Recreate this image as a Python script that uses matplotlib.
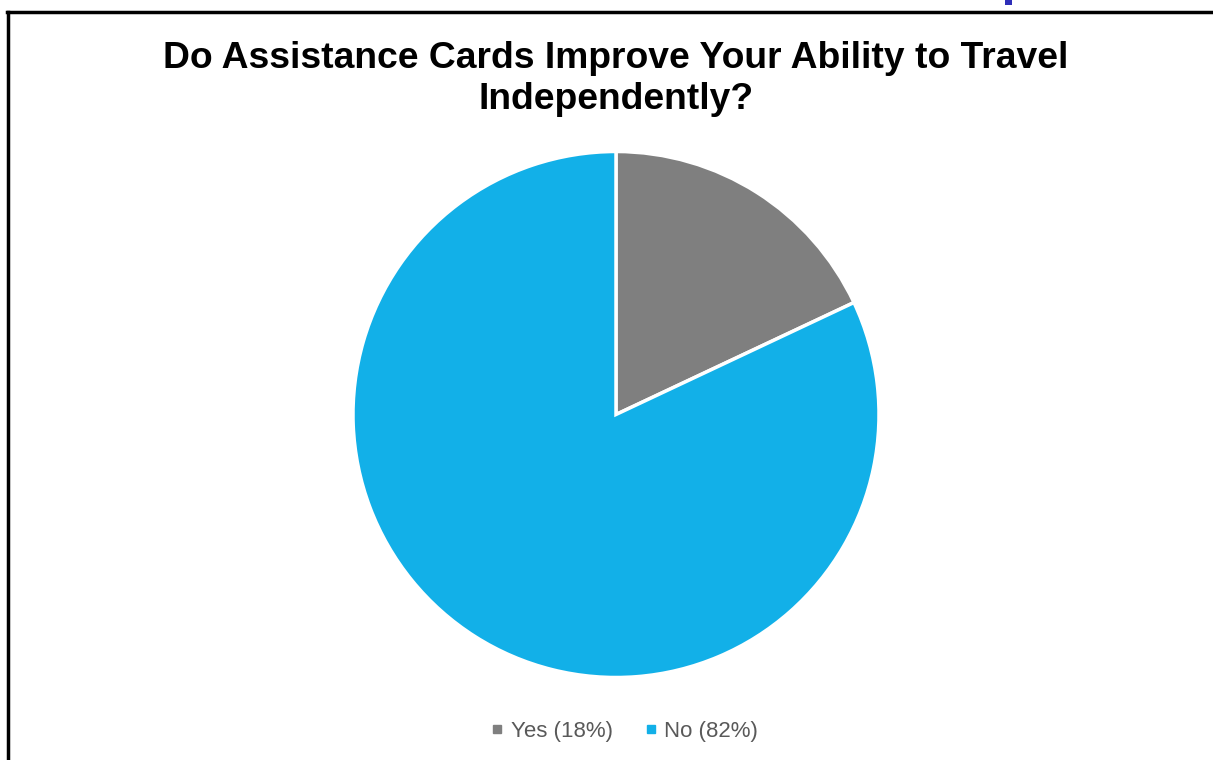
import matplotlib
matplotlib.use('Agg')
import matplotlib.pyplot as plt
from matplotlib.lines import Line2D
from matplotlib.patches import Rectangle

# survey answers
labels = ["Yes (18%)", "No (82%)"]
shares = [18, 82]
colors = ["#7F7F7F", "#12B0E8"]

W, H = 1213, 760
plt.rcParams["font.family"] = ["Liberation Sans", "DejaVu Sans"]
fig = plt.figure(figsize=(W / 100, H / 100), dpi=100)

# frame lines (left and top only)
fig.add_artist(Line2D([7.5 / W, 7.5 / W], [0, 1 - 11.5 / H], color="black", lw=2.5))
fig.add_artist(Line2D([6.5 / W, 1], [1 - 11.5 / H, 1 - 11.5 / H], color="black", lw=2.5))
fig.add_artist(Rectangle((1005 / W, 1 - 5 / H), 7 / W, 5 / H, color="#2E2EB8", lw=0))

# pie, placed by center/radius in pixels
cx, cy, r = 616, 414.5, 263
ax = fig.add_axes([(cx - r) / W, (H - cy - r) / H, 2 * r / W, 2 * r / H])
ax.pie(shares, colors=colors, startangle=90, counterclock=False, radius=1,
       wedgeprops=dict(edgecolor="white", linewidth=2.5))
ax.set_xlim(-1, 1)
ax.set_ylim(-1, 1)
ax.set_aspect("auto")
ax.axis("off")

fig.text(616 / W, 1 - 79 / H, "Do Assistance Cards Improve Your Ability to Travel\nIndependently?",
         ha="center", va="center", fontsize=26.8, fontweight="bold", linespacing=1.19)

handles = [Line2D([], [], marker="s", ls="", color=c, markersize=6) for c in colors]
fig.legend(handles, labels, loc="center", bbox_to_anchor=(622 / W, 1 - 731 / H),
           ncol=2, frameon=False, fontsize=16, labelcolor="#595959",
           handletextpad=0.1, columnspacing=1.2, handlelength=1.0)

plt.savefig("out.png", dpi=100)
